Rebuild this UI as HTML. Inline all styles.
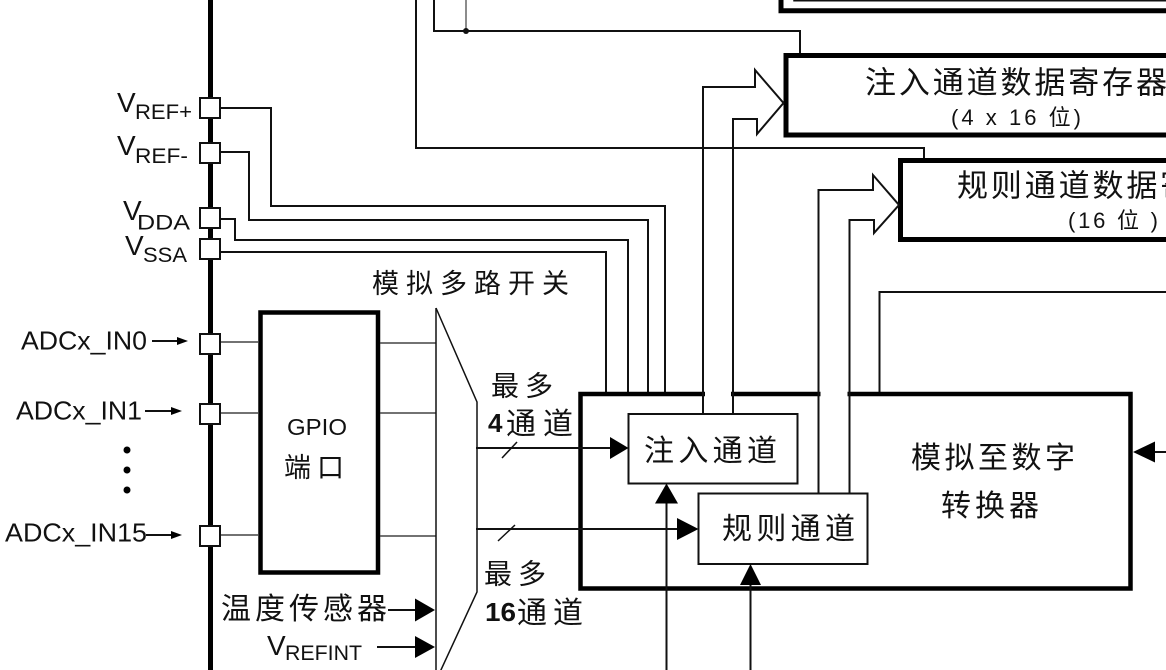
<!DOCTYPE html>
<html><head><meta charset="utf-8">
<style>
html,body{margin:0;padding:0;background:#fff;}
svg{display:block;}
text{font-family:"Liberation Sans","Noto Sans CJK SC",sans-serif;fill:#111;}
</style></head><body>
<svg width="1166" height="670" viewBox="0 0 1166 670" xmlns="http://www.w3.org/2000/svg">
<rect width="1166" height="670" fill="#fff"/>

<g fill="none" stroke="#111" stroke-width="2">
  <path d="M781,-6 V10.8 H1172" stroke-width="5" stroke="#000"/>
  <path d="M794,-6 V0.8 H1172" stroke-width="1.5"/>
  <path d="M416,-2 V148 H924 V160"/>
  <path d="M434,-2 V31 H800 V55"/>
  <path d="M466,-2 V31" stroke="#666" stroke-width="1.5"/>
  <path d="M220,108 H271 V206 H665 V394"/>
  <path d="M220,152 H249 V220 H648 V394"/>
  <path d="M220,219 H235 V240 H628 V394"/>
  <path d="M220,252 H606 V394"/>
  <path d="M879.5,394 V292 H1172"/>
</g>
<circle cx="466" cy="31" r="3" fill="#111"/>

<rect x="786" y="55.5" width="420" height="79.5" fill="#fff" stroke="#000" stroke-width="5"/>
<rect x="900.5" y="160.5" width="300" height="79" fill="#fff" stroke="#000" stroke-width="5"/>

<text x="865" y="93.5" font-size="31" textLength="302" lengthAdjust="spacing">注入通道数据寄存器</text>
<text x="951" y="125" font-size="22" textLength="130" lengthAdjust="spacing">(4 x 16 位)</text>
<text x="957" y="196.5" font-size="31" textLength="302" lengthAdjust="spacing">规则通道数据寄存器</text>
<text x="1068" y="228" font-size="22" textLength="90" lengthAdjust="spacing">(16 位 )</text>

<rect x="580.5" y="394" width="550" height="194.5" fill="none" stroke="#000" stroke-width="4.5"/>
<rect x="705" y="390" width="26" height="8" fill="#fff"/>
<rect x="820.5" y="390" width="27" height="8" fill="#fff"/>

<g fill="none" stroke="#111" stroke-width="2">
  <path d="M703,414 V87 H755 V70 L783.5,103 L757,134 V119 H733 V414"/>
  <path d="M818.5,493 V190 H873 V175 L899,205 L874,233 V220 H849.5 V493"/>
</g>

<rect x="628.5" y="414" width="169" height="69.5" fill="#fff" stroke="#111" stroke-width="2"/>
<rect x="698.5" y="493.5" width="169" height="70.5" fill="#fff" stroke="#111" stroke-width="2"/>
<text x="644" y="461" font-size="30" textLength="133" lengthAdjust="spacing">注入通道</text>
<text x="722" y="539" font-size="30" textLength="133" lengthAdjust="spacing">规则通道</text>
<text x="911" y="468" font-size="30" textLength="164" lengthAdjust="spacing">模拟至数字</text>
<text x="941" y="516" font-size="30" textLength="98" lengthAdjust="spacing">转换器</text>

<g fill="none" stroke="#111" stroke-width="2">
  <path d="M476,448 H612"/>
  <path d="M502,458 L517,442" stroke-width="1.5"/>
  <path d="M476,529 H680"/>
  <path d="M498,541 L515,525" stroke-width="1.5"/>
  <path d="M666.5,672 V503"/>
  <path d="M750.5,672 V585"/>
  <path d="M1155,452 H1170"/>
</g>
<g fill="#000">
  <polygon points="610,437 628.5,448 610,459"/>
  <polygon points="677,518 698.5,529 677,540"/>
  <polygon points="655,503.5 666.5,483.5 678,503.5"/>
  <polygon points="740,585 750.5,564 761,585"/>
  <polygon points="1155,441.5 1133,452 1155,462.5"/>
</g>

<rect x="260.5" y="312.5" width="117.5" height="260" fill="#fff" stroke="#000" stroke-width="4.5"/>
<text x="287" y="435" font-size="23" textLength="60" lengthAdjust="spacingAndGlyphs">GPIO</text>
<text x="284" y="477" font-size="27" textLength="60" lengthAdjust="spacing">端口</text>

<g fill="none" stroke="#444" stroke-width="1.5">
  <path d="M220,342 H258"/>
  <path d="M220,413 H258"/>
  <path d="M220,535 H258"/>
  <path d="M380,343 H436"/>
  <path d="M380,413 H436"/>
  <path d="M380,536 H436"/>
</g>

<g fill="none" stroke="#111" stroke-width="1.5">
  <path d="M436,308 V672"/>
  <path d="M436,308 L477,402 V592 L440,672"/>
</g>
<text x="372" y="293" font-size="27" textLength="197" lengthAdjust="spacing">模拟多路开关</text>
<text x="491" y="395.5" font-size="28" textLength="62" lengthAdjust="spacing">最多</text>
<text x="488" y="432" font-size="26" font-weight="bold">4</text>
<text x="506" y="434" font-size="30" textLength="67" lengthAdjust="spacing">通道</text>
<text x="484" y="583.5" font-size="28" textLength="62" lengthAdjust="spacing">最多</text>
<text x="485" y="621" font-size="26" font-weight="bold" textLength="31" lengthAdjust="spacingAndGlyphs">16</text>
<text x="517" y="623" font-size="30" textLength="66" lengthAdjust="spacing">通道</text>

<text x="221" y="619" font-size="30" textLength="166" lengthAdjust="spacing">温度传感器</text>
<text x="267" y="655" font-size="28">V</text>
<text x="285" y="660" font-size="21" textLength="77" lengthAdjust="spacingAndGlyphs">REFINT</text>
<g fill="none" stroke="#111" stroke-width="2">
  <path d="M388,610 H416"/>
  <path d="M377,647 H416"/>
</g>
<g fill="#000">
  <polygon points="415,598.5 435,610 415,621.5"/>
  <polygon points="415,636 435,647 415,658"/>
</g>

<path d="M210.5,0 V670" stroke="#000" stroke-width="5"/>
<g fill="#fff" stroke="#111" stroke-width="2">
  <rect x="200" y="98" width="20" height="20"/>
  <rect x="200" y="143" width="20" height="20"/>
  <rect x="200" y="208" width="20" height="20"/>
  <rect x="200" y="239" width="20" height="20"/>
  <rect x="200" y="334" width="20" height="20"/>
  <rect x="200" y="404" width="20" height="20"/>
  <rect x="200" y="526" width="20" height="20"/>
</g>

<text x="117" y="112" font-size="28">V</text>
<text x="135" y="119" font-size="21" textLength="57" lengthAdjust="spacingAndGlyphs">REF+</text>
<text x="117" y="155" font-size="28">V</text>
<text x="135" y="163" font-size="21" textLength="53" lengthAdjust="spacingAndGlyphs">REF-</text>
<text x="123" y="220" font-size="28">V</text>
<text x="137" y="229.5" font-size="21" textLength="53" lengthAdjust="spacingAndGlyphs">DDA</text>
<text x="125" y="255" font-size="28">V</text>
<text x="143" y="262" font-size="21" textLength="44" lengthAdjust="spacingAndGlyphs">SSA</text>

<text x="21" y="349.5" font-size="26" textLength="126" lengthAdjust="spacingAndGlyphs">ADCx_IN0</text>
<text x="16" y="419.5" font-size="26" textLength="126" lengthAdjust="spacingAndGlyphs">ADCx_IN1</text>
<text x="5" y="541.5" font-size="26" textLength="142" lengthAdjust="spacingAndGlyphs">ADCx_IN15</text>
<g fill="none" stroke="#111" stroke-width="2">
  <path d="M152,341 H180"/>
  <path d="M145,411 H174"/>
  <path d="M146,535 H174"/>
</g>
<g fill="#000">
  <polygon points="177,337 188,341 177,345"/>
  <polygon points="171,407 182,411 171,415"/>
  <polygon points="171,531 182,535 171,539"/>
  <circle cx="127" cy="450" r="3.5"/>
  <circle cx="127" cy="470" r="3.5"/>
  <circle cx="127" cy="490" r="3.5"/>
</g>
</svg>
</body></html>
